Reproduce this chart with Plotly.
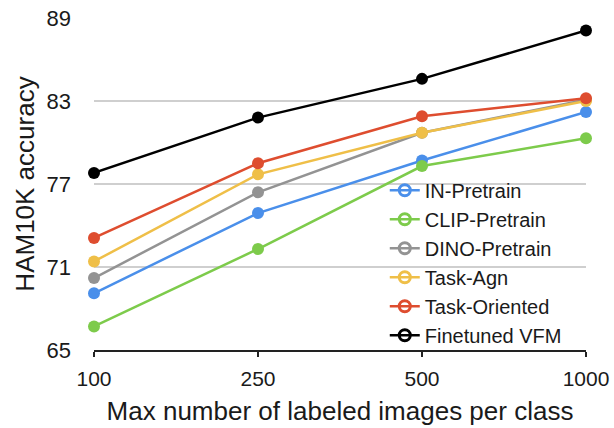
import plotly.graph_objects as go

categories = ["100", "250", "500", "1000"]
series_names = ["IN-Pretrain", "CLIP-Pretrain", "DINO-Pretrain", "Task-Agn", "Task-Oriented", "Finetuned VFM"]
in_pretrain = [69.1, 74.9, 78.7, 82.2]
clip_pretrain = [66.7, 72.3, 78.3, 80.3]
dino_pretrain = [70.2, 76.4, 80.7, 83.1]
task_agn = [71.4, 77.7, 80.7, 83.0]
task_oriented = [73.1, 78.5, 81.9, 83.2]
finetuned_vfm = [77.8, 81.8, 84.6, 88.1]
y_ticks = [65, 71, 77, 83, 89]

colors = ["#4A8FEA", "#7DCB4B", "#939393", "#EFBF48", "#DE4D2F", "#000000"]
values = [in_pretrain, clip_pretrain, dino_pretrain, task_agn, task_oriented, finetuned_vfm]

fig = go.Figure()
for name, vals, c in zip(series_names, values, colors):
    fig.add_trace(go.Scatter(
        x=categories, y=vals, mode="lines+markers", name=name,
        line=dict(color=c, width=2.5), marker=dict(color=c, size=12),
        cliponaxis=False, showlegend=False))
# legend entries with open-circle symbol as in the reference
for name, c in zip(series_names, colors):
    fig.add_trace(go.Scatter(
        x=[None], y=[None], mode="lines+markers", name=name,
        line=dict(color=c, width=2.5),
        marker=dict(color=c, size=11, symbol="circle-open", line=dict(width=3, color=c)),
        showlegend=True))

fig.update_layout(
    width=614, height=428,
    margin=dict(l=94, r=28, t=18, b=78, autoexpand=False),
    paper_bgcolor="white", plot_bgcolor="white",
    font=dict(family="Liberation Sans, Arial, sans-serif", color="#1a1a1a"),
    legend=dict(x=0.591, y=0.54, xanchor="left", yanchor="top",
                font=dict(size=20, color="#1a1a1a"), bgcolor="rgba(0,0,0,0)",
                itemwidth=30, tracegroupgap=0),
    xaxis=dict(
        type="category", range=[0, 3], showgrid=False, automargin=False,
        showline=True, linecolor="#222222", linewidth=2,
        ticks="outside", ticklen=5, tickwidth=2, tickcolor="#222222",
        tickfont=dict(size=21), zeroline=False, ticklabelstandoff=4,
        title=dict(text="Max number of labeled images per class", font=dict(size=26), standoff=13),
    ),
    yaxis=dict(
        range=[65, 89], tickvals=y_ticks, showgrid=True, gridcolor="#CFCFCF", gridwidth=1.5,
        showline=False, zeroline=False, ticks="", tickfont=dict(size=22), automargin=False,
        ticklabelstandoff=22,
        title=dict(text="HAM10K accuracy", font=dict(size=26), standoff=4),
    ),
)
fig.write_html("out.html", config={"displayModeBar": False},
               post_script="document.body.style.margin='0';")
